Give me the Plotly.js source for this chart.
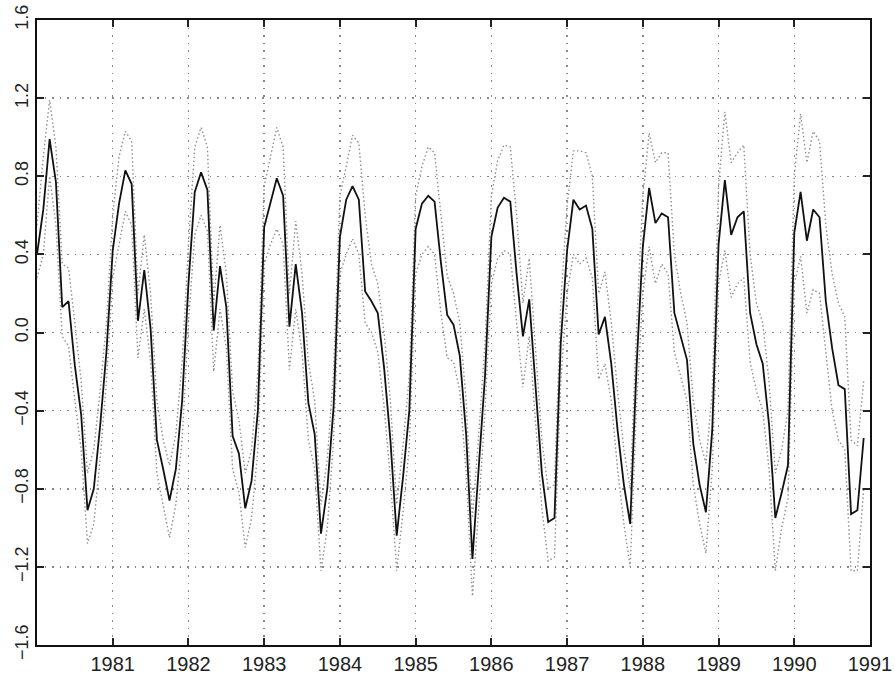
<!DOCTYPE html>
<html>
<head>
<meta charset="utf-8">
<script src="https://cdn.plot.ly/plotly-3.0.1.min.js"></script>
<style>html,body{margin:0;padding:0;background:#fff;}#chart{width:895px;height:679px;}</style>
</head>
<body>
<div id="chart"></div>
<script>
// monthly series, Jan 1980 .. Dec 1990
const startYear = 1980;
const seriesMid = [
  0.40, 0.63, 0.99, 0.77, 0.13, 0.16, -0.17, -0.42, -0.91, -0.80, -0.48, -0.10,
  0.42, 0.66, 0.83, 0.76, 0.06, 0.32, 0.02, -0.55, -0.70, -0.86, -0.70, -0.35,
  0.25, 0.72, 0.82, 0.73, 0.01, 0.34, 0.13, -0.53, -0.62, -0.90, -0.76, -0.40,
  0.54, 0.66, 0.79, 0.70, 0.03, 0.35, 0.10, -0.36, -0.52, -1.03, -0.80, -0.38,
  0.49, 0.68, 0.75, 0.68, 0.21, 0.16, 0.10, -0.18, -0.55, -1.04, -0.74, -0.40,
  0.53, 0.66, 0.70, 0.67, 0.36, 0.09, 0.04, -0.12, -0.52, -1.16, -0.70, -0.22,
  0.49, 0.64, 0.69, 0.67, 0.30, -0.02, 0.17, -0.28, -0.72, -0.97, -0.95, -0.05,
  0.42, 0.68, 0.63, 0.65, 0.53, -0.01, 0.08, -0.16, -0.50, -0.78, -0.98, -0.18,
  0.44, 0.74, 0.56, 0.61, 0.59, 0.10, -0.02, -0.14, -0.57, -0.78, -0.92, -0.50,
  0.45, 0.78, 0.50, 0.59, 0.62, 0.10, -0.06, -0.16, -0.47, -0.95, -0.82, -0.68,
  0.51, 0.72, 0.47, 0.63, 0.59, 0.16, -0.08, -0.27, -0.29, -0.93, -0.91, -0.54
];
const seriesUpper = [
  0.55, 0.90, 1.19, 0.95, 0.35, 0.33, 0.05, -0.25, -0.72, -0.60, -0.30, 0.05,
  0.60, 0.90, 1.03, 0.98, 0.20, 0.50, 0.20, -0.35, -0.55, -0.68, -0.52, -0.15,
  0.45, 0.95, 1.05, 0.95, 0.15, 0.55, 0.30, -0.30, -0.45, -0.72, -0.60, -0.20,
  0.75, 0.90, 1.05, 0.95, 0.20, 0.57, 0.30, -0.15, -0.35, -0.88, -0.65, -0.20,
  0.70, 0.85, 1.01, 0.97, 0.60, 0.35, 0.25, 0.00, -0.35, -0.88, -0.58, -0.22,
  0.70, 0.85, 0.95, 0.92, 0.60, 0.29, 0.20, 0.05, -0.35, -0.95, -0.52, -0.05,
  0.70, 0.88, 0.96, 0.95, 0.60, 0.15, 0.38, -0.10, -0.55, -0.80, -0.78, 0.15,
  0.65, 0.93, 0.93, 0.92, 0.80, 0.20, 0.31, 0.05, -0.30, -0.60, -0.80, 0.02,
  0.70, 1.02, 0.87, 0.92, 0.92, 0.40, 0.20, 0.05, -0.35, -0.55, -0.67, -0.30,
  0.75, 1.13, 0.87, 0.92, 0.96, 0.40, 0.15, 0.05, -0.25, -0.72, -0.60, -0.40,
  0.80, 1.12, 0.87, 1.03, 0.98, 0.55, 0.30, 0.15, 0.08, -0.55, -0.58, -0.25
];
const seriesLower = [
  0.28, 0.40, 0.80, 0.55, -0.02, -0.07, -0.35, -0.60, -1.08, -0.98, -0.65, -0.25,
  0.28, 0.45, 0.62, 0.55, -0.13, 0.12, -0.15, -0.72, -0.88, -1.05, -0.88, -0.55,
  0.05, 0.50, 0.60, 0.52, -0.20, 0.12, -0.08, -0.70, -0.82, -1.10, -0.95, -0.60,
  0.35, 0.45, 0.53, 0.45, -0.19, 0.12, -0.10, -0.55, -0.70, -1.22, -1.00, -0.55,
  0.30, 0.40, 0.48, 0.40, 0.05, 0.00, -0.10, -0.38, -0.75, -1.22, -0.92, -0.58,
  0.30, 0.40, 0.44, 0.40, 0.10, -0.13, -0.15, -0.30, -0.72, -1.35, -0.90, -0.40,
  0.25, 0.38, 0.42, 0.40, 0.05, -0.28, -0.02, -0.45, -0.90, -1.17, -1.15, -0.25,
  0.20, 0.40, 0.35, 0.38, 0.28, -0.24, -0.16, -0.35, -0.70, -0.98, -1.20, -0.38,
  0.20, 0.44, 0.25, 0.35, 0.30, -0.10, -0.22, -0.35, -0.78, -0.98, -1.13, -0.70,
  0.25, 0.42, 0.18, 0.25, 0.28, -0.15, -0.30, -0.40, -0.70, -1.22, -1.00, -0.85,
  0.25, 0.39, 0.10, 0.22, 0.20, -0.10, -0.40, -0.55, -0.60, -1.22, -1.22, -0.80
];
const xTickVals = [1981, 1982, 1983, 1984, 1985, 1986, 1987, 1988, 1989, 1990, 1991];
const xTickText = ['1981', '1982', '1983', '1984', '1985', '1986', '1987', '1988', '1989', '1990', '1991'];
const yTickVals = [-1.6, -1.2, -0.8, -0.4, 0, 0.4, 0.8, 1.2, 1.6];
const yTickText = ['\u22121.6', '\u22121.2', '\u22120.8', '\u22120.4', '0.0', '0.4', '0.8', '1.2', '1.6'];

const time = seriesMid.map((_, i) => startYear + i / 12);

const dotted = {color: '#8f8f8f', width: 1.4, dash: '1.5px,2.5px'};
const traces = [
  {x: time, y: seriesUpper, mode: 'lines', line: dotted, hoverinfo: 'skip'},
  {x: time, y: seriesLower, mode: 'lines', line: dotted, hoverinfo: 'skip'},
  {x: time, y: seriesMid, mode: 'lines', line: {color: '#111', width: 1.8}}
];

const axisCommon = {
  showline: true, linecolor: '#111', linewidth: 2, mirror: 'ticks',
  ticks: 'inside', ticklen: 7, tickwidth: 2, tickcolor: '#222',
  showgrid: true, gridcolor: '#8a8a8a', gridwidth: 1.5, griddash: '1.5px,6px',
  zeroline: false
};

const layout = {
  width: 895, height: 679,
  margin: {l: 37, r: 25, t: 20, b: 34},
  paper_bgcolor: '#fff', plot_bgcolor: '#fff',
  showlegend: false,
  xaxis: Object.assign({}, axisCommon, {range: [1980, 1991], tickmode: 'array', tickvals: xTickVals, ticktext: xTickText,
    tickfont: {family: 'Liberation Sans, Arial, sans-serif', size: 20, color: '#222'}}),
  yaxis: Object.assign({}, axisCommon, {range: [-1.6, 1.6], tickmode: 'array', tickvals: yTickVals, ticktext: yTickText, tickangle: -90,
    tickfont: {family: 'Liberation Sans, Arial, sans-serif', size: 18, color: '#222'}})
};

Plotly.newPlot('chart', traces, layout, {displayModeBar: false, staticPlot: true});
</script>
</body>
</html>
